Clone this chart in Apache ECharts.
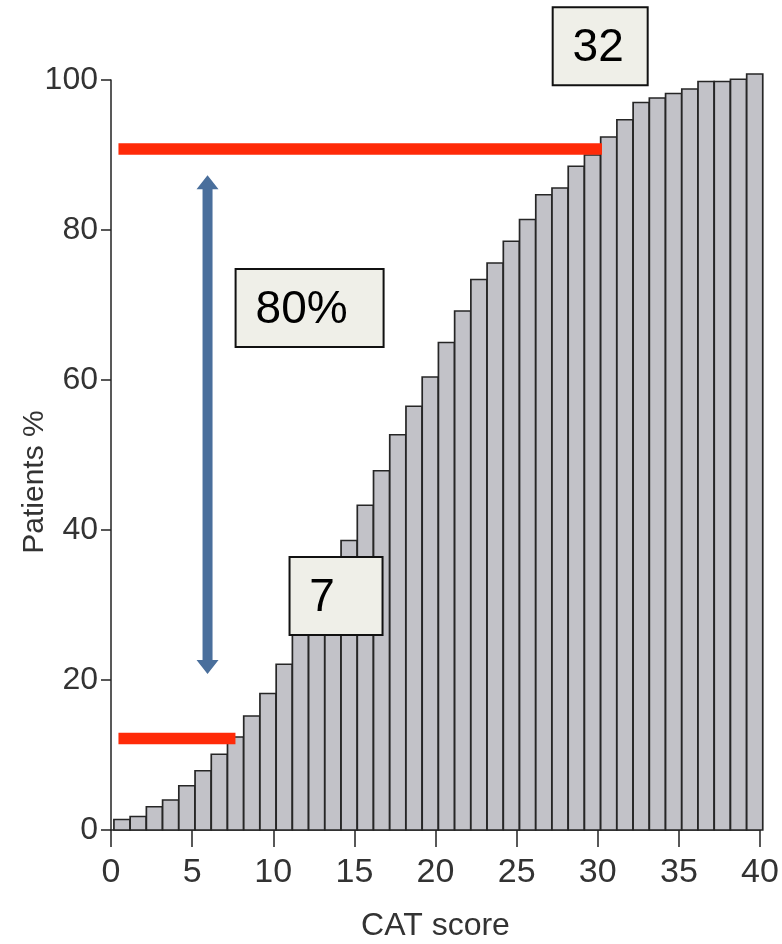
<!DOCTYPE html>
<html>
<head>
<meta charset="utf-8">
<title>Cumulative distribution of CAT score</title>
<script src="https://cdn.jsdelivr.net/npm/echarts@6/dist/echarts.min.js"></script>
<style>
  html, body { margin: 0; padding: 0; background: #ffffff; }
  #chart { width: 782px; height: 944px; }
</style>
</head>
<body>
<div id="chart"></div>
<script>
// CAT score categories (1..40) and cumulative share of patients (%)
const catScores = [
  1, 2, 3, 4, 5, 6, 7, 8, 9, 10,
  11, 12, 13, 14, 15, 16, 17, 18, 19, 20,
  21, 22, 23, 24, 25, 26, 27, 28, 29, 30,
  31, 32, 33, 34, 35, 36, 37, 38, 39, 40
];
const cumulativePatients = [
  1.4, 1.8, 3.1, 4.0, 5.9, 7.9, 10.1, 12.4, 15.2, 18.2,
  22.1, 26.2, 30.3, 34.4, 38.6, 43.3, 47.9, 52.7, 56.5, 60.4,
  65.0, 69.2, 73.4, 75.6, 78.5, 81.4, 84.7, 85.6, 88.5, 90.0,
  92.4, 94.7, 97.0, 97.6, 98.2, 98.8, 99.8, 99.8, 100.1, 100.8
];

// Axis ticks
const xTicks = [0, 5, 10, 15, 20, 25, 30, 35, 40];
const yTicks = [0, 20, 40, 60, 80, 100];

// Threshold markers: [xStart, xEnd, y]
const thresholdLines = [
  [0.46, 7.67, 12.2],
  [0.46, 30.26, 90.8]
];

// Range arrow: [x, yLow, yHigh]
const rangeArrow = [[5.95, 20.8, 87.3]];

// Callout boxes: [x, y, text]
const callouts = [
  [13.87, 31.2, '7'],
  [30.15, 104.5, '32'],
  [12.24, 69.6, '80%']
];
// Box size / text offset per callout (pixels)
const calloutBoxes = {
  '7':   { w: 93,  h: 78, dx: -14 },
  '32':  { w: 95,  h: 78, dx: -2 },
  '80%': { w: 148, h: 78, dx: -8 }
};

const axisFont = '"Liberation Sans", Arial, sans-serif';

const chart = echarts.init(document.getElementById('chart'));

chart.setOption({
  backgroundColor: '#ffffff',
  animation: false,
  grid: {
    left: 111, right: 22, top: 80, bottom: 114,
    containLabel: false,
    outerBoundsMode: 'none'
  },
  xAxis: {
    type: 'value',
    min: xTicks[0],
    max: xTicks[xTicks.length - 1],
    interval: xTicks[1] - xTicks[0],
    name: 'CAT score',
    nameLocation: 'middle',
    nameGap: 80,
    nameMoveOverlap: false,
    nameTextStyle: { fontFamily: axisFont, fontSize: 32, color: '#333333' },
    axisLine: { show: true, onZero: false, lineStyle: { color: '#222222', width: 1.5 } },
    axisTick: { show: true, length: 17, lineStyle: { color: '#222222', width: 1.5 } },
    axisLabel: { margin: 26, fontFamily: axisFont, fontSize: 34, color: '#333333' },
    splitLine: { show: false }
  },
  yAxis: {
    type: 'value',
    min: yTicks[0],
    max: yTicks[yTicks.length - 1],
    interval: yTicks[1] - yTicks[0],
    name: 'Patients %',
    nameLocation: 'middle',
    nameRotate: 90,
    nameGap: 61,
    nameMoveOverlap: false,
    nameTextStyle: { fontFamily: axisFont, fontSize: 30, color: '#333333', padding: [0, 54, 0, 0] },
    axisLine: { show: true, onZero: false, lineStyle: { color: '#222222', width: 1.5 } },
    axisTick: { show: true, length: 10, lineStyle: { color: '#222222', width: 1.5 } },
    axisLabel: { margin: 13, fontFamily: axisFont, fontSize: 32, color: '#333333' },
    splitLine: { show: false }
  },
  series: [
    {
      // cumulative histogram bars
      type: 'custom',
      clip: false,
      z: 2,
      data: catScores.map((s, i) => [s, cumulativePatients[i]]),
      renderItem: function (params, api) {
        const s = api.value(0);
        const v = api.value(1);
        const topLeft = api.coord([s - 0.82, v]);
        const bottomRight = api.coord([s + 0.17, 0]);
        return {
          type: 'rect',
          shape: {
            x: topLeft[0],
            y: topLeft[1],
            width: bottomRight[0] - topLeft[0],
            height: bottomRight[1] - topLeft[1]
          },
          style: { fill: '#c2c2c8', stroke: '#262626', lineWidth: 1.7 }
        };
      }
    },
    {
      // red threshold markers
      type: 'custom',
      clip: false,
      z: 4,
      data: thresholdLines,
      renderItem: function (params, api) {
        const a = api.coord([api.value(0), api.value(2)]);
        const b = api.coord([api.value(1), api.value(2)]);
        return {
          type: 'rect',
          shape: { x: a[0], y: a[1] - 5.75, width: b[0] - a[0], height: 11.5 },
          style: { fill: '#ff2a08' }
        };
      }
    },
    {
      // double-headed range arrow
      type: 'custom',
      clip: false,
      z: 4,
      data: rangeArrow,
      renderItem: function (params, api) {
        const lo = api.coord([api.value(0), api.value(1)]);
        const hi = api.coord([api.value(0), api.value(2)]);
        const cx = hi[0];
        const shaft = 5, head = 11, headLen = 14;
        const yTop = hi[1], yBot = lo[1];
        return {
          type: 'polygon',
          shape: {
            points: [
              [cx, yTop],
              [cx + head, yTop + headLen],
              [cx + shaft, yTop + headLen],
              [cx + shaft, yBot - headLen],
              [cx + head, yBot - headLen],
              [cx, yBot],
              [cx - head, yBot - headLen],
              [cx - shaft, yBot - headLen],
              [cx - shaft, yTop + headLen],
              [cx - head, yTop + headLen]
            ]
          },
          style: { fill: '#4a6f9c' }
        };
      }
    },
    {
      // callout boxes
      type: 'custom',
      clip: false,
      z: 5,
      data: callouts,
      renderItem: function (params, api) {
        const c = api.coord([api.value(0), api.value(1)]);
        const label = callouts[params.dataIndex][2];
        const box = calloutBoxes[label];
        return {
          type: 'group',
          children: [
            {
              type: 'rect',
              shape: { x: c[0] - box.w / 2, y: c[1] - box.h / 2, width: box.w, height: box.h },
              style: { fill: '#efefe8', stroke: '#111111', lineWidth: 2 }
            },
            {
              type: 'text',
              x: c[0] + box.dx,
              y: c[1] + 2,
              style: {
                text: label,
                fontFamily: axisFont,
                fontSize: 46,
                fill: '#000000',
                align: 'center',
                verticalAlign: 'middle'
              }
            }
          ]
        };
      }
    }
  ]
});
</script>
</body>
</html>
